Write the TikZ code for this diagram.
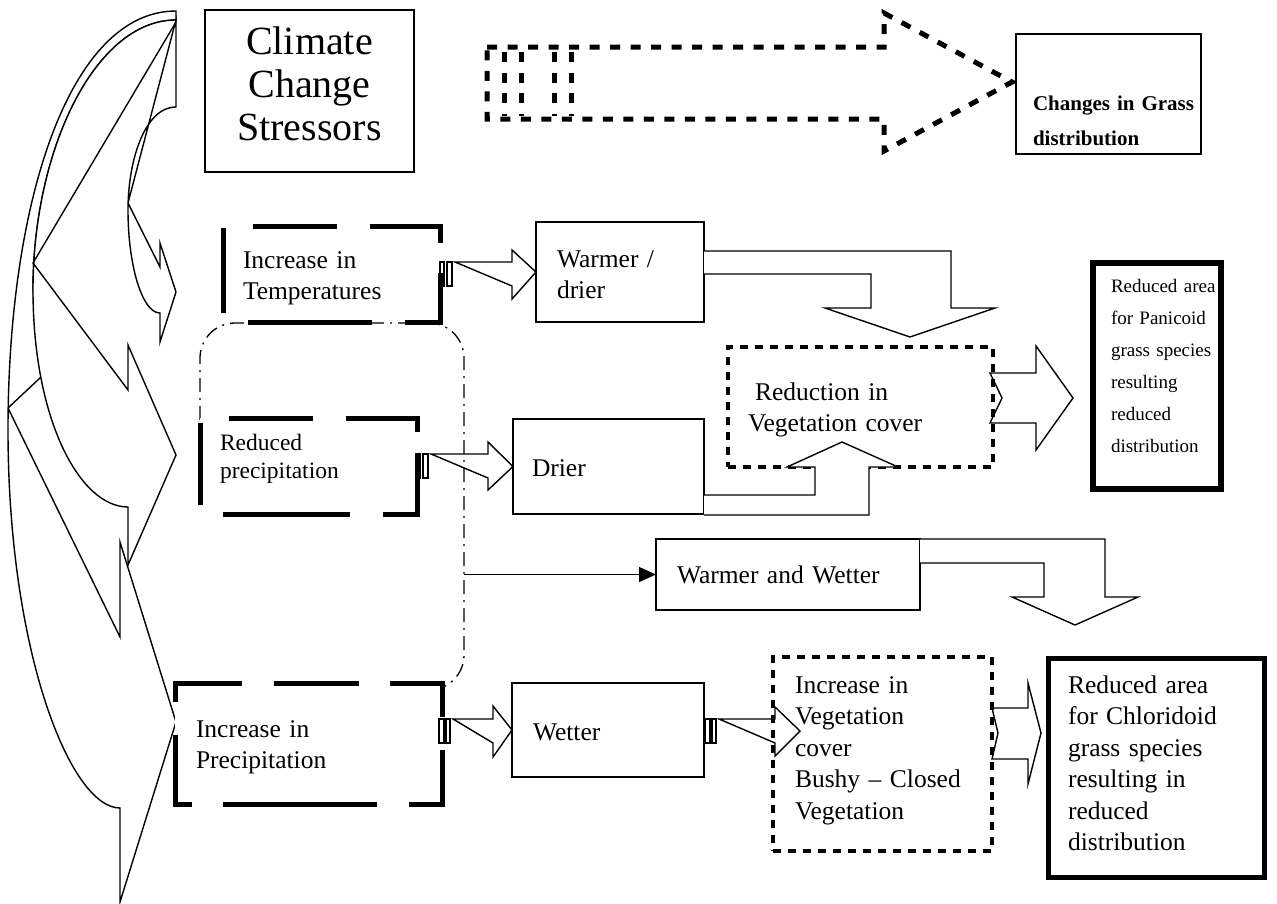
\documentclass[tikz,border=0pt]{standalone}
\usepackage{fontspec}
\setmainfont{Liberation Serif}
\usetikzlibrary{arrows.meta}
\begin{document}
\begin{tikzpicture}[x=1pt,y=-1pt,line join=miter,
  boxthin/.style={draw=black, line width=1.4pt, fill=white, inner sep=0pt, outer sep=0pt, anchor=north west},
  boxthick/.style={draw=black, line width=5.5pt, fill=white, inner sep=0pt, outer sep=0pt, anchor=north west},
  boxdot/.style={draw=black, line width=4.5pt, dash pattern=on 8pt off 7pt, inner sep=0pt, outer sep=0pt, anchor=north west},
  boxplain/.style={fill=white, inner sep=0pt, outer sep=0pt, anchor=north west},
  longdash/.style={draw=black, line width=5pt},
  blockarrow/.style={draw=black, line width=1.4pt, fill=white},
  openarrow/.style={draw=black, line width=1.4pt},
  txt/.style={inner sep=0pt, outer sep=0pt, anchor=base west, align=left, text width=#1, font=\fontsize{25.5}{31.5}\selectfont},
  txt/.default=220pt,
]
\useasboundingbox (0,0) rectangle (1277,903);

% ---- curved left arrows ----
\draw[blockarrow] (176,11) .. controls (70,11) and (8,200) .. (8,430)
   .. controls (8,650) and (70,808) .. (120,808) -- (120,902) -- (176,722) -- (120,542)
   -- (120,637) -- (8,408) -- (41,377) -- (33,290) .. controls (33,150) and (95,20) .. (176,20) -- cycle;
\draw[blockarrow] (176,20) .. controls (95,20) and (33,150) .. (33,290)
   .. controls (33,420) and (80,507) .. (128,507) -- (128,565) -- (176,455) -- (128,345)
   -- (128,390) -- (33,263) -- (176,22) -- cycle;
\draw[blockarrow] (176,20) -- (176,107) .. controls (145,107) and (128,160) .. (128,210)
   .. controls (128,265) and (142,313) .. (160,313) -- (160,342) -- (176,292) -- (160,243)
   -- (160,267) -- (128,203) -- cycle;

% ---- dash-dot rounded frame (lower-left part hidden) ----
\draw[line width=1.3pt, dash pattern=on 14pt off 6pt on 2pt off 6pt, rounded corners=35pt]
   (200,420) -- (200,323) -- (464,323) -- (464,690) -- (400,690);

% ---- top row ----
\node[boxthin, minimum width=209pt, minimum height=162pt] (ccs) at (205,10) {};
\node[inner sep=0pt, align=center, font=\fontsize{40}{43}\selectfont] (ccstxt) at (309.5,84) {Climate\\Change\\Stressors};

\draw[line width=5pt, dash pattern=on 10pt off 10.5pt]
   (487,47) -- (884,47) -- (884,13) -- (1012,82) -- (884,151) -- (884,119) -- (487,119) -- cycle;
\foreach \xx in {504,521,554,571} \draw[line width=5pt, dash pattern=on 10pt off 10.5pt] (\xx,52) -- (\xx,116);

\node[boxthin, minimum width=185pt, minimum height=120pt] (cgd) at (1016,34) {};
\node[txt=170pt, font=\fontsize{21}{35}\selectfont\bfseries] (cgdtxt) at (1033,110) {Changes in Grass\\distribution};

% ---- left dashed boxes ----
\node[boxplain, minimum width=217pt, minimum height=96pt] (temp) at (223,226) {};
\draw[longdash, dash pattern=on 84pt off 33pt on 87pt off 30pt on 84pt off 33pt on 124pt off 34pt on 85pt off 32pt]
   ([xshift=30pt]temp.north west) -- (temp.north east) -- (temp.south east) -- (temp.south west) -- (temp.north west) -- cycle;
\node[txt] (temptxt) at (243,268) {Increase in\\Temperatures};

\node[boxplain, minimum width=217pt, minimum height=96pt] (rp) at (200,418) {};
\draw[longdash, dash pattern=on 84pt off 33pt on 85pt off 21pt on 95pt off 33pt on 127pt off 32pt on 82pt off 34pt]
   ([xshift=29pt]rp.north west) -- (rp.north east) -- (rp.south east) -- (rp.south west) -- (rp.north west) -- cycle;
\node[txt, font=\fontsize{23.5}{28}\selectfont] (rptxt) at (220,450) {Reduced\\precipitation};

\node[boxplain, minimum width=267pt, minimum height=121pt] (ip) at (175,683) {};
\draw[longdash, dash pattern=on 86pt off 32pt on 85pt off 31pt on 86pt off 33pt on 87pt off 32pt on 154pt off 31pt on 86pt off 33pt]
   ([yshift=-19pt]ip.north west) -- (ip.north west) -- (ip.north east) -- (ip.south east) -- (ip.south west) -- cycle;
\node[txt] (iptxt) at (196,737) {Increase in\\Precipitation};

% ---- middle boxes ----
\node[boxthin, minimum width=168pt, minimum height=100pt] (wd) at (536,222) {};
\node[txt=140pt] (wdtxt) at (557,267) {Warmer /\\drier};

\node[boxthin, minimum width=191pt, minimum height=95pt] (dr) at (513,419) {};
\node[txt=140pt] (drtxt) at (532,476) {Drier};

\node[boxthin, minimum width=264pt, minimum height=71pt] (ww) at (656,539) {};
\node[txt=240pt] (wwtxt) at (677,583) {Warmer and Wetter};

\node[boxthin, minimum width=192pt, minimum height=94pt] (we) at (512,683) {};
\node[txt=140pt] (wetxt) at (533,740) {Wetter};

% ---- striped arrows ----
\draw[openarrow] (440,262) rectangle (444,286);
\draw[openarrow] (447,262) rectangle (452,286);
\draw[openarrow] (455,262) -- (512,262) -- (512,250) -- (wd.west) -- (512,299) -- (512,286) -- cycle;

\draw[openarrow] (417,454) rectangle (420,478);
\draw[openarrow] (423,454) rectangle (428,478);
\draw[openarrow] (431,454) -- (488,454) -- (488,442) -- (dr.west) -- (488,490) -- (488,478) -- cycle;

\draw[openarrow] (439,719) rectangle (444,743);
\draw[openarrow] (446,719) rectangle (450,743);
\draw[openarrow] (453,719) -- (493,719) -- (493,706) -- (we.west) -- (493,757) -- (493,743) -- cycle;

\draw[openarrow] (705,719) rectangle (710,743);
\draw[openarrow] (712,719) rectangle (716,743);
\draw[openarrow] (719,719) -- (775,719) -- (775,707) -- (800,731) -- (775,756) -- (775,743) -- cycle;

% ---- connector to Warmer and Wetter ----
\draw[line width=1.4pt, -{Triangle[length=17pt,width=15pt]}] (ww.west -| 464,0) -- (ww.west);

% ---- Reduction in vegetation cover ----
\draw[openarrow] (990,373) -- (1036,373) -- (1036,346) -- (1073,398) -- (1036,450) -- (1036,423) -- (990,423) -- (1002,398) -- cycle;
\node[boxdot, minimum width=265pt, minimum height=120pt] (rv) at (728,347) {};
\node[txt=250pt] (rvtxt) at (748,400) {\hspace*{7pt}Reduction in\\Vegetation cover};

\draw[blockarrow] (wd.east |- 0,251) -- (951,251) -- (951,308) -- (995,308) -- (910,337) -- (825,308)
   -- (871,308) -- (871,274) -- (wd.east |- 0,274);
\draw[blockarrow] (dr.east |- 0,515) -- (869,515) -- (869,467) -- (898,467) -- (842,442) -- (787,467)
   -- (815,467) -- (815,495) -- (dr.east |- 0,495);
\draw[blockarrow] (ww.east |- 0,539) -- (1105,539) -- (1105,597) -- (1138,597) -- (1075,625) -- (1012,597)
   -- (1044,597) -- (1044,563) -- (ww.east |- 0,563);

% ---- Panicoid ----
\node[boxthick, minimum width=128pt, minimum height=226pt] (pan) at (1093,263) {};
\node[txt=120pt, font=\fontsize{19}{32}\selectfont] (pantxt) at (1111,292) {Reduced area\\for Panicoid\\grass species\\resulting\\reduced\\distribution};

% ---- Increase in vegetation ----
\draw[openarrow] (992,708) -- (1028,708) -- (1028,683) -- (1041,733) -- (1028,784) -- (1028,759) -- (992,759) -- (998,733) -- cycle;
\node[boxdot, minimum width=219pt, minimum height=194pt] (iv) at (773,657) {};
\node[txt=200pt] (ivtxt) at (795,693) {Increase in\\Vegetation\\cover\\Bushy -- Closed\\Vegetation};

% ---- Chloridoid ----
\node[boxthick, minimum width=216pt, minimum height=219pt] (chl) at (1048.5,658.5) {};
\node[txt=195pt] (chltxt) at (1068,693) {Reduced area\\for Chloridoid\\grass species\\resulting in\\reduced\\distribution};
\end{tikzpicture}
\end{document}
